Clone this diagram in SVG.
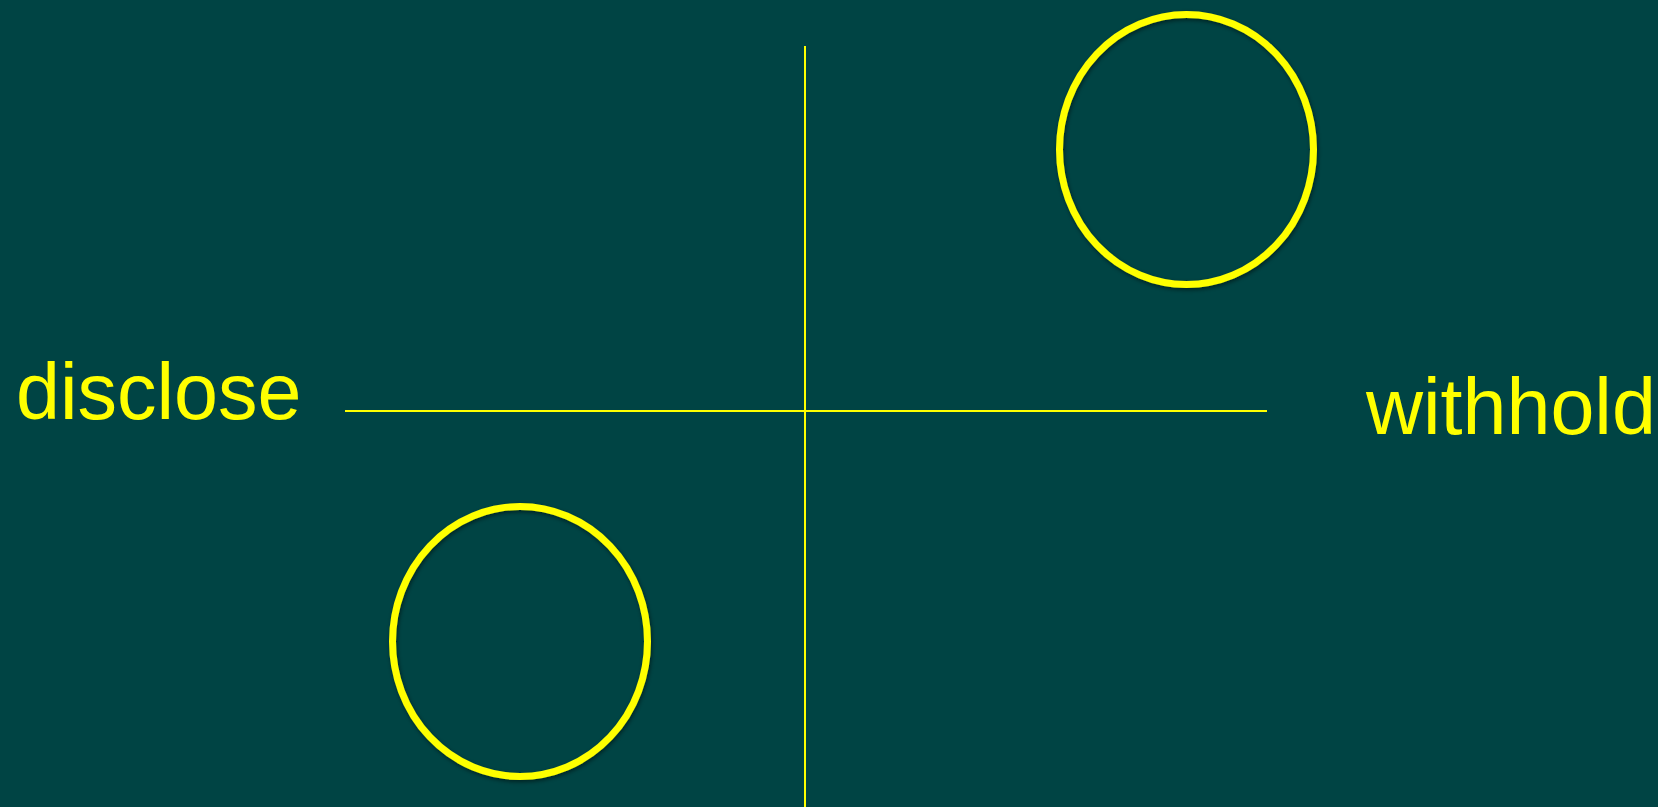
<svg xmlns="http://www.w3.org/2000/svg" width="1658" height="807" viewBox="0 0 1658 807">
<defs>
<style>
.lbl{font-family:"Liberation Sans",Arial,sans-serif;font-size:79px;fill:#ffff00}
.ring{fill:none;stroke:#ffff00;stroke-width:7;filter:url(#sh)}
.axis{stroke:#ffff00;stroke-width:2;fill:none}
</style>
<filter id="sh" x="-20%" y="-20%" width="140%" height="140%">
<feDropShadow dx="1" dy="2" stdDeviation="2" flood-color="#000000" flood-opacity="0.5"/>
</filter>
</defs>
<rect width="1658" height="807" fill="#004444"/>
<g id="connectors">
<line class="axis" x1="805" y1="46" x2="805" y2="807"/>
<line class="axis" x1="345" y1="411" x2="1267" y2="411"/>
</g>
<g id="circle-top"><ellipse class="ring" cx="1186.5" cy="149.5" rx="127" ry="135"/></g>
<g id="circle-bottom"><ellipse class="ring" cx="520" cy="641.5" rx="127.5" ry="135"/></g>
<g id="label-disclose"><text class="lbl" x="16" y="419">disclose</text></g>
<g id="label-withhold"><text class="lbl" x="1366" y="434">withhold</text></g>
</svg>
